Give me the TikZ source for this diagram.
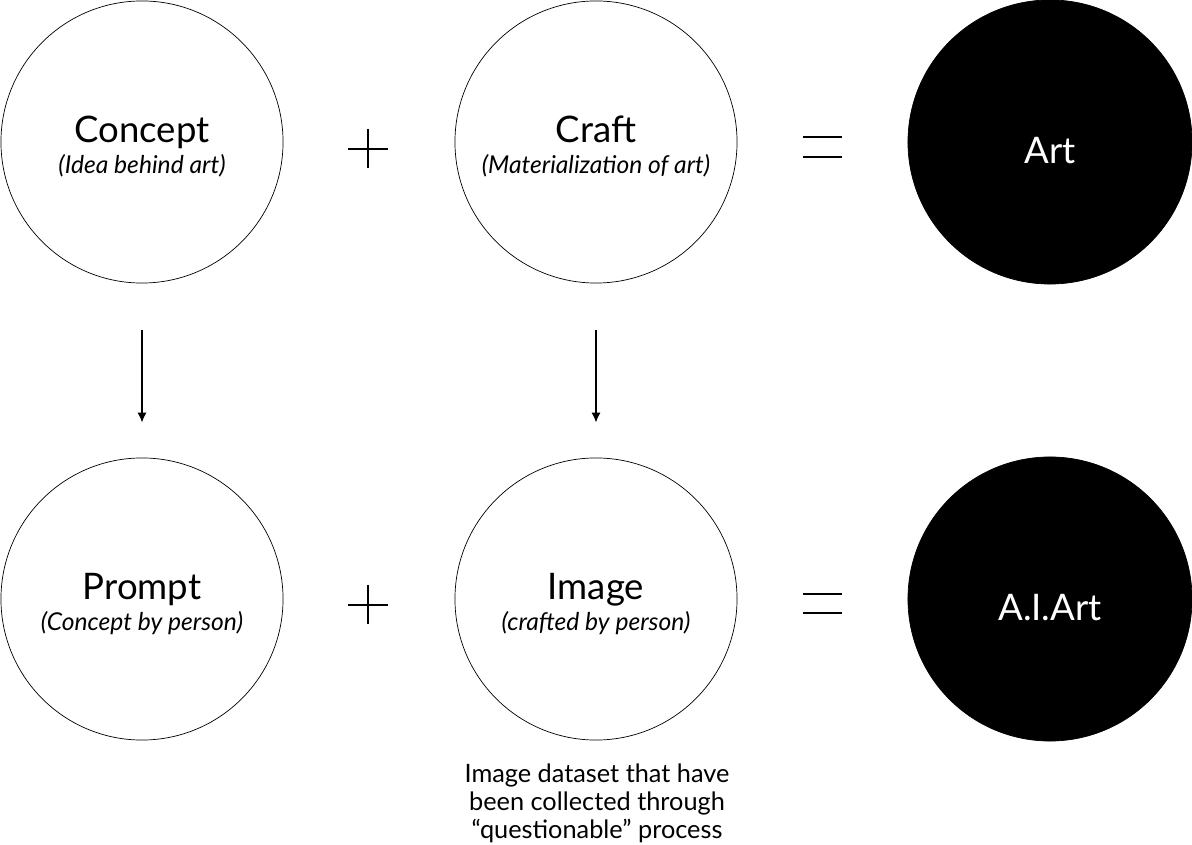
\documentclass[tikz,border=0pt]{standalone}
\usepackage{fontspec}
\setmainfont{Lato}
\usetikzlibrary{calc,arrows.meta}
\tikzset{
	ball/.style={circle, draw=black, line width=0.5pt, minimum size=7.05cm, inner sep=0pt},
	blackball/.style={ball, fill=black, minimum size=7.1cm},
	balltext/.style={align=center, font=\fontsize{26}{34}\selectfont, yshift=-3.5pt},
	darktext/.style={balltext, text=white, yshift=-2.5pt},
	pointer/.style={line width=1pt, -{Latex[length=7pt,width=6.5pt]}, shorten <=33pt, shorten >=25pt},
}
\newcommand{\subline}[1]{\\[-12pt]{\fontsize{17.5}{20}\selectfont\itshape #1}}

\begin{document}
\begin{tikzpicture}[x=0.025cm, y=-0.025cm]
		%%%%% START %%%%%
		\useasboundingbox (0, 0) rectangle (1192, 845);
		
		\node[ball, label={[balltext]center:Concept\subline{(Idea behind art)}}] (concept) at (142, 142) {};
		\node[ball, label={[balltext]center:Craft\subline{(Materialization of art)}}] (craft) at (596, 142) {};
		\node[blackball, label={[darktext]center:Art}] (art) at (1050, 142) {};
		
		\node[ball, label={[balltext]center:Prompt\subline{(Concept by person)}}] (prompt) at (142, 599) {};
		\node[ball, label={[balltext]center:Image\subline{(crafted by person)}}] (image) at (596, 599) {};
		\node[blackball, label={[darktext]center:A.I.Art}] (aiart) at (1050, 599) {};
		
		\node[align=center, font=\fontsize{18}{20}\selectfont] (note) at (597, 803) {Image dataset that have\\been collected through\\``questionable'' process};
		
		% plus signs
		\draw[line width=1pt] (348, 149) -- (388, 149);
		\draw[line width=1pt] (368, 129) -- (368, 168);
		\draw[line width=1pt] (348, 605) -- (388, 605);
		\draw[line width=1pt] (368, 585) -- (368, 624);
		
		% equal signs
		\draw[line width=1.3pt] (803, 137) -- (842, 137);
		\draw[line width=1.3pt] (803, 157) -- (842, 157);
		\draw[line width=1.3pt] (803, 594) -- (842, 594);
		\draw[line width=1.3pt] (803, 613) -- (842, 613);
		
		% arrows
		\draw[pointer] (concept) -- (prompt);
		\draw[pointer] (craft) -- (image);
		
		%%%%% END %%%%%
	\end{tikzpicture}
\end{document}
